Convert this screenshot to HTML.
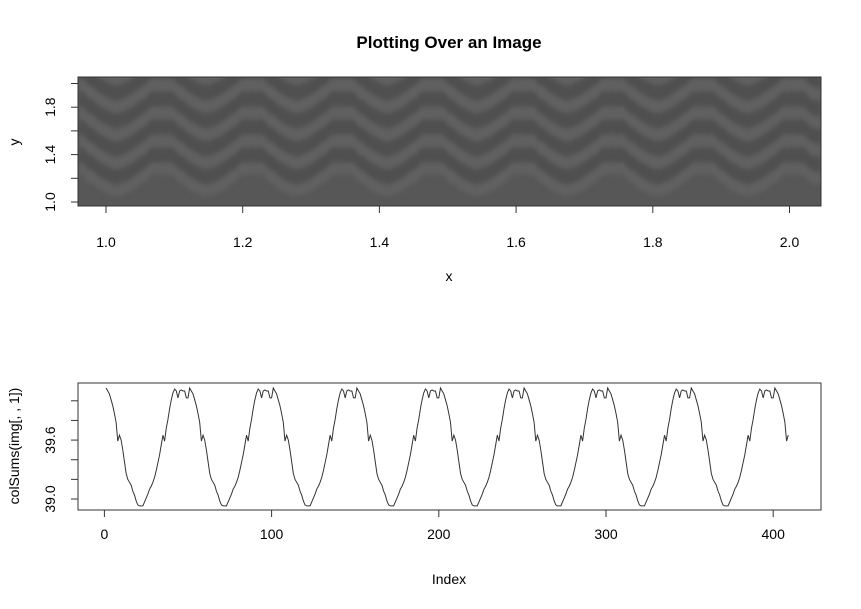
<!DOCTYPE html>
<html><head><meta charset="utf-8"><style>
html,body{margin:0;padding:0;background:#fff;}
svg{display:block;font-family:"Liberation Sans",Arial,sans-serif;}
</style></head><body>
<svg id="chart" width="861" height="609" viewBox="0 0 861 609">
<text x="449" y="48" text-anchor="middle" font-size="17" font-weight="bold">Plotting Over an Image</text>
<defs><clipPath id="imgclip"><rect x="78" y="77" width="743" height="129"/></clipPath>
<filter id="soft" x="-5%" y="-20%" width="110%" height="140%"><feGaussianBlur stdDeviation="2"/></filter></defs>
<rect x="78" y="77" width="743" height="129" fill="#575757"/>
<g clip-path="url(#imgclip)"><g id="bands" filter="url(#soft)"></g></g>
<rect x="78" y="77" width="743" height="129" fill="none" stroke="#333" stroke-width="1"/>
<g id="topaxes"></g>
<text x="449" y="281" text-anchor="middle" font-size="14">x</text>
<text transform="translate(19,142) rotate(-90)" text-anchor="middle" font-size="14">y</text>

<rect x="78" y="383" width="743" height="127" fill="none" stroke="#333" stroke-width="1"/>
<g id="botaxes"></g>
<path id="line" fill="none" stroke="#333" stroke-width="1"/>
<text x="449" y="584" text-anchor="middle" font-size="14">Index</text>
<text transform="translate(19,446) rotate(-90)" text-anchor="middle" font-size="14">colSums(img[, , 1])</text>
</svg>
<script>
// one period (50 samples) of colSums, phase = index mod 50
const periodValues = [40.03,40.13,40.10,40.07,40.01,39.95,39.87,39.78,39.59,39.65,
39.60,39.50,39.38,39.26,39.20,39.17,39.14,39.08,39.04,38.98,
38.94,38.93,38.93,38.93,38.97,39.01,39.05,39.10,39.13,39.17,
39.22,39.29,39.37,39.45,39.55,39.65,39.59,39.72,39.81,39.92,
40.01,40.08,40.12,40.10,40.03,40.10,40.11,40.10,40.10,40.03];
const seriesLength = 409;
const bottomXTicks = [0,100,200,300,400];
const bottomYTicks = [39.0,39.2,39.4,39.6,39.8,40.0];
const bottomYLabels = ["39.0","","","39.6","",""];
const topXTicks = [1.0,1.2,1.4,1.6,1.8,2.0];
const topXLabels = ["1.0","1.2","1.4","1.6","1.8","2.0"];
const topYTicks = [1.0,1.2,1.4,1.6,1.8,2.0];
const topYLabels = ["1.0","","1.4","","1.8",""];
const bandOffsets = [180,152,124,96,68];

const NS="http://www.w3.org/2000/svg";
const series=[];
for(let i=1;i<=seriesLength;i++) series.push(periodValues[i%periodValues.length]);

const bx=v=>104.4+(v)*1.672;
const by=v=>499-(v-39.0)*98.2;
const tx=v=>106+(v-1.0)*683.5;
const ty=v=>202-(v-1.0)*118.5;
const colX=i=>78+(i-0.5)*(743/412);

function mk(tag,attrs,parent){const e=document.createElementNS(NS,tag);for(const k in attrs)e.setAttribute(k,attrs[k]);parent.appendChild(e);return e;}

let d="";
series.forEach((v,k)=>{d+=(k?"L":"M")+bx(k+1).toFixed(2)+" "+by(v).toFixed(2);});
document.getElementById("line").setAttribute("d",d);

const bands=document.getElementById("bands");
const mean=39.5;
bandOffsets.forEach((b,j)=>{
  ["light","dark"].forEach((kind,m)=>{
    let p="";
    for(let i=1;i<=412;i++){
      const v=periodValues[i%periodValues.length];
      const y=b+(m?-14:0)-(v-mean)*19;
      p+=(i>1?"L":"M")+colX(i).toFixed(1)+" "+y.toFixed(1);
    }
    const el=mk("path",{d:p,fill:"none",stroke:m?"#505050":"#616161","stroke-width":m?12:10,"stroke-linejoin":"round"},bands);
    
    
  });
});

const ba=document.getElementById("botaxes");
mk("line",{x1:bx(bottomXTicks[0]),x2:bx(bottomXTicks[bottomXTicks.length-1]),y1:510,y2:510,stroke:"#333"},ba);
bottomXTicks.forEach(t=>{
  mk("line",{x1:bx(t),x2:bx(t),y1:510,y2:517,stroke:"#333"},ba);
  const tl=mk("text",{x:bx(t),y:539,"text-anchor":"middle","font-size":"14"},ba);
  tl.textContent=t;
  
  
});
mk("line",{x1:78,x2:78,y1:by(bottomYTicks[0]),y2:by(bottomYTicks[bottomYTicks.length-1]),stroke:"#333"},ba);
bottomYTicks.forEach((t,k)=>{
  mk("line",{x1:71,x2:78,y1:by(t),y2:by(t),stroke:"#333"},ba);
  if(bottomYLabels[k]){
    const tl=mk("text",{transform:`translate(55,${by(t)}) rotate(-90)`,"text-anchor":"middle","font-size":"14"},ba);
    tl.textContent=bottomYLabels[k];
    
    
  }
});

const ta=document.getElementById("topaxes");
mk("line",{x1:tx(topXTicks[0]),x2:tx(topXTicks[topXTicks.length-1]),y1:206,y2:206,stroke:"#333"},ta);
topXTicks.forEach((t,k)=>{
  mk("line",{x1:tx(t),x2:tx(t),y1:206,y2:213,stroke:"#333"},ta);
  const tl=mk("text",{x:tx(t),y:247,"text-anchor":"middle","font-size":"14"},ta);
  tl.textContent=topXLabels[k];
  
  
});
mk("line",{x1:78,x2:78,y1:ty(topYTicks[0]),y2:ty(topYTicks[topYTicks.length-1]),stroke:"#333"},ta);
topYTicks.forEach((t,k)=>{
  mk("line",{x1:71,x2:78,y1:ty(t),y2:ty(t),stroke:"#333"},ta);
  if(topYLabels[k]){
    const tl=mk("text",{transform:`translate(55,${ty(t)}) rotate(-90)`,"text-anchor":"middle","font-size":"14"},ta);
    tl.textContent=topYLabels[k];
    
    
  }
});
</script>
</body></html>
